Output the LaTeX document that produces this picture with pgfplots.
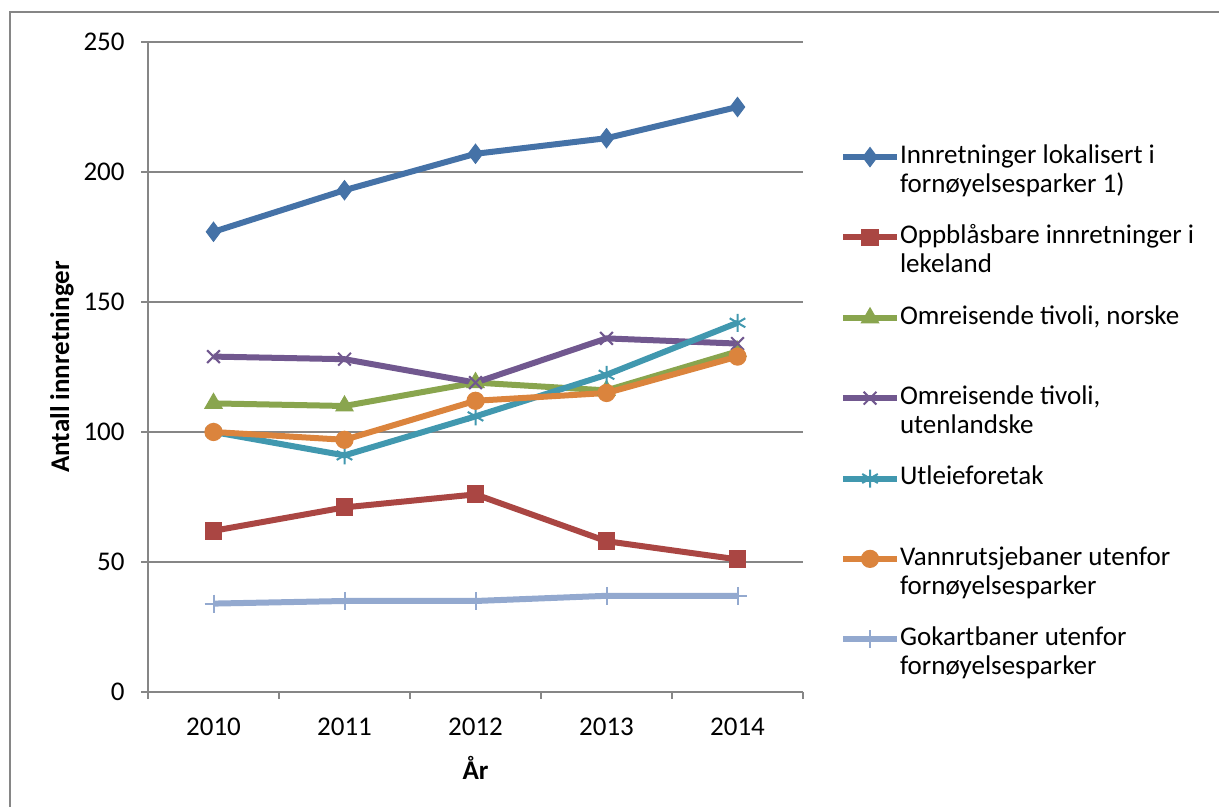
\documentclass[border=0pt]{standalone}
\usepackage{fontspec}
\setmainfont{Carlito}
\usepackage{pgfplots}
\pgfplotsset{compat=1.18}

\definecolor{cA}{HTML}{4572A7}
\definecolor{cB}{HTML}{AA4643}
\definecolor{cC}{HTML}{89A54E}
\definecolor{cD}{HTML}{71588F}
\definecolor{cE}{HTML}{4198AF}
\definecolor{cF}{HTML}{DB843D}
\definecolor{cG}{HTML}{93A9CF}
\definecolor{axgray}{HTML}{868686}

% legend text: up to two lines
\newcommand{\lentry}[2]{\parbox[t]{170pt}{\strut #1\\#2}}

\begin{document}
\fontsize{13.5}{14.5}\selectfont
\begin{tikzpicture}
\useasboundingbox (0,0) rectangle (609.5pt,403.5pt);
% chart frame (only top and left are inside the picture)
\draw[axgray, line width=1pt] (5pt,0pt) -- (5pt,397.5pt) -- (609.5pt,397.5pt);

\begin{axis}[
  at={(74pt,57.5pt)}, anchor=south west,
  scale only axis, width=327.5pt, height=325pt,
  xmin=0.5, xmax=5.5, ymin=0, ymax=250,
  xtick={1,2,3,4,5},
  xticklabels={2010,2011,2012,2013,2014},
  minor xtick={0.5,1.5,2.5,3.5,4.5,5.5},
  ytick={0,50,100,150,200,250},
  axis lines*=left,
  axis line style={-, draw=axgray, line width=1pt},
  ymajorgrids,
  grid style={axgray, line width=1pt},
  tick align=outside,
  major tick length=3.5pt, minor tick length=3.5pt,
  tick style={axgray, line width=1pt},
  major x tick style={draw=none},
  /pgf/number format/assume math mode=true,
  yticklabel style={inner sep=0pt},
  xticklabel style={inner sep=0pt},
  yticklabel shift=8pt,
  xticklabel shift=9.5pt,
  xlabel={\bfseries År},
  ylabel={\bfseries Antall innretninger},
  xlabel style={at={(axis description cs:0.5,-0.117)}, anchor=center, inner sep=0pt},
  ylabel style={at={(axis description cs:-0.1313,0.5)}, anchor=center, inner sep=0pt},
  clip=false,
  every axis plot/.append style={line width=3pt},
  legend image code/.code={\draw[mark repeat=2, mark phase=2, #1] plot coordinates {(0pt,3.1pt) (13.5pt,3.1pt) (27pt,3.1pt)};},
  legend style={at={(1.0565,0.8446)}, anchor=north west, draw=none, fill=none,
    inner sep=0pt, outer sep=0pt, row sep=28pt, column sep=0pt,
    cells={anchor=base west}, nodes={inner sep=0pt}},
]
\addplot[cA, mark=diamond*, mark size=4.8pt, mark options={solid, line width=0.5pt}]
  coordinates {(1,177) (2,193) (3,207) (4,213) (5,225)};
\addlegendentry{\lentry{Innretninger lokalisert i}{fornøyelsesparker 1)}}
\addplot[cB, mark=square*, mark size=4.2pt, mark options={solid, line width=0.5pt}]
  coordinates {(1,62) (2,71) (3,76) (4,58) (5,51)};
\addlegendentry{\lentry{Oppblåsbare innretninger i}{lekeland}}
\addplot[cC, mark=triangle*, mark size=5pt, mark options={solid, line width=0.5pt}]
  coordinates {(1,111) (2,110) (3,119) (4,116) (5,131)};
\addlegendentry{\lentry{Omreisende tivoli, norske}{\mbox{}}}
\addplot[cD, mark=x, mark size=4.5pt, mark options={solid, line width=1pt}]
  coordinates {(1,129) (2,128) (3,119) (4,136) (5,134)};
\addlegendentry{\lentry{Omreisende tivoli,}{utenlandske}}
\addplot[cE, mark=asterisk, mark size=4.5pt, mark options={solid, line width=1pt}]
  coordinates {(1,100) (2,91) (3,106) (4,122) (5,142)};
\addlegendentry{\lentry{Utleieforetak}{\mbox{}}}
\addplot[cF, mark=*, mark size=4.3pt, mark options={solid, line width=0.5pt}]
  coordinates {(1,100) (2,97) (3,112) (4,115) (5,129)};
\addlegendentry{\lentry{Vannrutsjebaner utenfor}{fornøyelsesparker}}
\addplot[cG, mark=+, mark size=4.5pt, mark options={solid, line width=1pt}]
  coordinates {(1,34) (2,35) (3,35) (4,37) (5,37)};
\addlegendentry{\lentry{Gokartbaner utenfor}{fornøyelsesparker}}
\end{axis}
\end{tikzpicture}
\end{document}
